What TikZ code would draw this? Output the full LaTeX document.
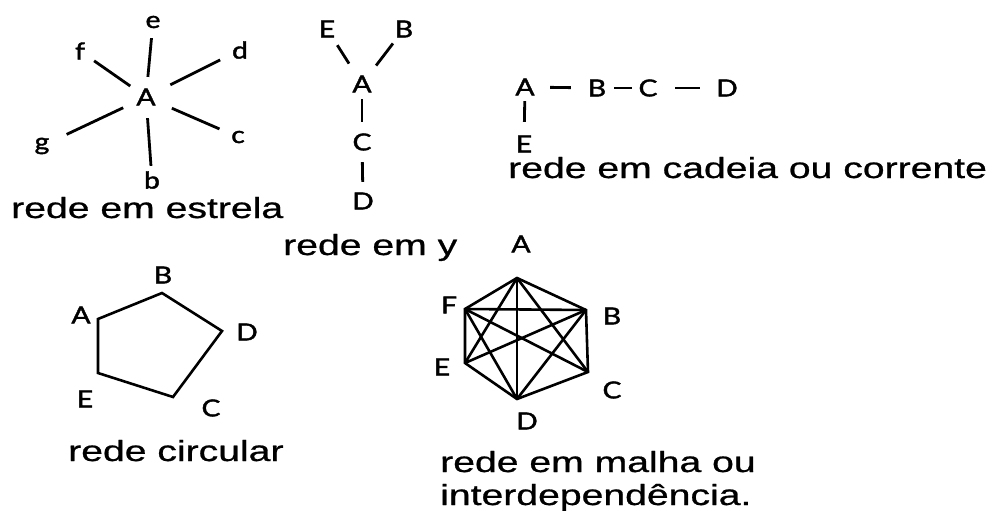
\documentclass[tikz,border=0pt]{standalone}
\usepackage{fontspec}
\setmainfont{Liberation Sans}[FakeBold=0.7]
\newfontfamily\lblfam{Lato}[FakeBold=1.6]
\newcommand\capfont{\fontsize{29}{33}\selectfont}
\newcommand\lblfont{\lblfam\fontsize{23.5}{26}\selectfont}
\newcommand\wide[1]{\scalebox{1.35}[1]{#1}}
\newcommand\lw[1]{\scalebox{1.2}[1]{#1}}
\begin{document}
\begin{tikzpicture}[x=1pt,y=-1pt,
  lbl/.style={circle,inner sep=0pt,font=\lblfont},
  plainlbl/.style={inner sep=0pt,font=\lblfont},
  capt/.style={anchor=base west,inner sep=0pt,font=\capfont},
  edge/.style={line width=2.8pt},
  poly/.style={line width=2.6pt,line join=miter}]
\useasboundingbox[fill=white] (0,0) rectangle (997,511);

% ---------- star network ----------
\node[lbl,minimum size=38pt] (sA) at (146,97) {\lw{A}};
\node[lbl,minimum size=32pt] (se) at (153,22) {\lw{e}};
\node[lbl,minimum size=44pt] (sd) at (240,50) {\lw{d}};
\node[lbl,minimum size=34pt] (sf) at (80,51) {\lw{f}};
\node[lbl,minimum size=54pt] (sg) at (42,146) {\lw{g}};
\node[lbl,minimum size=40pt] (sc) at (238,137) {\lw{c}};
\node[lbl,minimum size=28pt] (sb) at (152,180) {\lw{b}};
\draw[edge,shorten <=1pt] (sA) -- (se);
\draw[edge,shorten <=8pt] (sA) -- (sd);
\draw[edge] (sA) -- (sf);
\draw[edge,shorten <=6pt] (sA) -- (sg);
\draw[edge,shorten <=9pt] (sA) -- (sc);
\draw[edge,shorten <=2pt] (sA) -- (sb);
\node[capt] (cStar) at (11,218) {\wide{rede em estrela}};

% ---------- y network ----------
\node[lbl,minimum size=30pt] (yA) at (362,84) {\lw{A}};
\node[lbl,minimum size=38pt] (yE) at (327,29) {\lw{E}};
\node[lbl,minimum size=36pt] (yB) at (404,29) {\lw{B}};
\node[lbl,minimum size=40pt] (yC) at (362,142) {\lw{C}};
\node[lbl,minimum size=38pt] (yD) at (363,201) {\lw{D}};
\draw[edge,shorten >=9pt] (yE) -- (yA);
\draw[edge,shorten >=8pt] (yB) -- (yA);
\draw[edge] (yA) -- (yC);
\draw[edge] (yC) -- (yD);
\node[capt] (cY) at (283,255) {\wide{rede em y}};

% ---------- chain network ----------
\node[lbl,minimum size=28pt] (cA) at (525,87) {\lw{A}};
\node[lbl,minimum size=34pt] (cB) at (597,88) {\lw{B}};
\node[lbl,minimum size=32pt] (cC) at (648,88) {\lw{C}};
\node[lbl,minimum size=54pt] (cD) at (727,88) {\lw{D}};
\node[lbl,minimum size=44pt] (cE) at (524,144) {\lw{E}};
\draw[edge,shorten <=11pt,shorten >=9pt] (cA) -- (cB);
\draw[edge] (cB) -- (cC);
\draw[edge,shorten <=11pt] (cC) -- (cD);
\draw[edge] (cA) -- (cE);
\node[capt] (cChain) at (508,178) {\wide{rede em cadeia ou corrente}};

% ---------- circular network ----------
\coordinate (pA) at (98,319);
\coordinate (pB) at (162,293);
\coordinate (pD) at (222,331);
\coordinate (pC) at (173,397);
\coordinate (pE) at (98,373);
\draw[poly] (pA) -- (pB) -- (pD) -- (pC) -- (pE) -- cycle;
\node[plainlbl] (lpA) at (81,315) {\lw{A}};
\node[plainlbl] (lpB) at (163,275) {\lw{B}};
\node[plainlbl] (lpD) at (247,332) {\lw{D}};
\node[plainlbl] (lpC) at (211,408) {\lw{C}};
\node[plainlbl] (lpE) at (85,399) {\lw{E}};
\node[capt] (cCirc) at (68,461) {\wide{rede circular}};

% ---------- mesh network ----------
\coordinate (mA) at (517,278);
\coordinate (mF) at (465,309);
\coordinate (mB) at (586,310);
\coordinate (mE) at (465,363);
\coordinate (mC) at (588,372);
\coordinate (mD) at (517,399);
\draw[poly] (mA) -- (mB) -- (mC) -- (mD) -- (mE) -- (mF) -- cycle;
\draw[poly] (mA) -- (mE);
\draw[poly] (mA) -- (mD);
\draw[poly] (mA) -- (mC);
\draw[poly] (mF) -- (mB);
\draw[poly] (mF) -- (mD);
\draw[poly] (mF) -- (mC);
\draw[poly] (mB) -- (mE);
\draw[poly] (mB) -- (mD);
\node[plainlbl] (lmA) at (521,244) {\lw{A}};
\node[plainlbl] (lmF) at (449,305) {\lw{F}};
\node[plainlbl] (lmB) at (612,316) {\lw{B}};
\node[plainlbl] (lmE) at (442,367) {\lw{E}};
\node[plainlbl] (lmC) at (612,390) {\lw{C}};
\node[plainlbl] (lmD) at (527,421) {\lw{D}};
\node[capt] (cMesh1) at (440,472) {\wide{rede em malha ou}};
\node[capt] (cMesh2) at (440,505) {\wide{interdependência.}};
\end{tikzpicture}
\end{document}
